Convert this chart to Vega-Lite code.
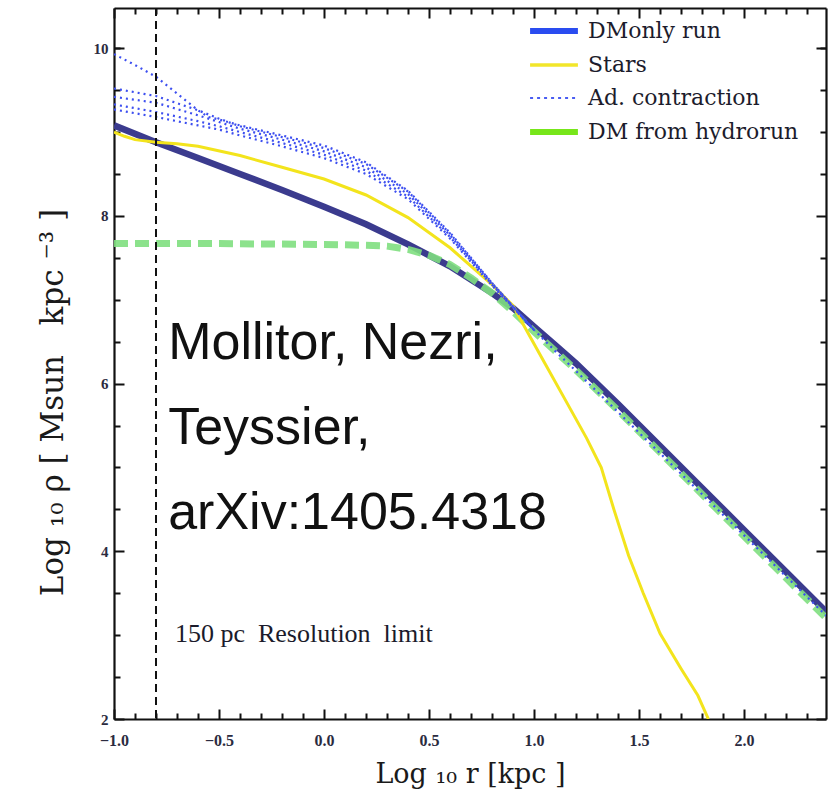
{
  "$schema": "https://vega.github.io/schema/vega-lite/v6.json",
  "autosize": "none",
  "width": 712,
  "height": 711,
  "padding": {"left": 114, "top": 8, "right": 8, "bottom": 79},
  "background": "white",
  "config": {
    "view": {"stroke": null},
    "axis": {
      "grid": false,
      "domainColor": "#111111",
      "domainWidth": 2.2,
      "gridColor": "#111111",
      "gridWidth": 2,
      "gridOpacity": 1,
      "labelFont": "Liberation Serif",
      "labelFontWeight": "bold",
      "labelColor": "#2b2b40",
      "titleFont": "DejaVu Serif",
      "titleFontWeight": "normal",
      "titleColor": "#1a1a1a"
    },
    "legend": {
      "labelFont": "DejaVu Serif",
      "labelFontSize": 22,
      "labelColor": "#1c1c2c",
      "labelLimit": 400
    }
  },
  "datasets": {
    "curves": [
      {"s": "DMonly run", "k": "M", "x": -1.0, "y": 9.08},
      {"s": "DMonly run", "k": "M", "x": -0.8, "y": 8.88},
      {"s": "DMonly run", "k": "M", "x": -0.6, "y": 8.69},
      {"s": "DMonly run", "k": "M", "x": -0.4, "y": 8.50},
      {"s": "DMonly run", "k": "M", "x": -0.2, "y": 8.31},
      {"s": "DMonly run", "k": "M", "x": 0.0, "y": 8.11},
      {"s": "DMonly run", "k": "M", "x": 0.2, "y": 7.90},
      {"s": "DMonly run", "k": "M", "x": 0.4, "y": 7.66},
      {"s": "DMonly run", "k": "M", "x": 0.6, "y": 7.40},
      {"s": "DMonly run", "k": "M", "x": 0.8, "y": 7.08},
      {"s": "DMonly run", "k": "M", "x": 0.9, "y": 6.90},
      {"s": "DMonly run", "k": "M", "x": 1.0, "y": 6.68},
      {"s": "DMonly run", "k": "M", "x": 1.1, "y": 6.46},
      {"s": "DMonly run", "k": "M", "x": 1.2, "y": 6.24},
      {"s": "DMonly run", "k": "M", "x": 1.4, "y": 5.755},
      {"s": "DMonly run", "k": "M", "x": 1.6, "y": 5.255},
      {"s": "DMonly run", "k": "M", "x": 1.8, "y": 4.755},
      {"s": "DMonly run", "k": "M", "x": 2.0, "y": 4.255},
      {"s": "DMonly run", "k": "M", "x": 2.2, "y": 3.755},
      {"s": "DMonly run", "k": "M", "x": 2.4, "y": 3.255},

      {"s": "Stars", "k": "S", "x": -1.0, "y": 9.00},
      {"s": "Stars", "k": "S", "x": -0.95, "y": 8.95},
      {"s": "Stars", "k": "S", "x": -0.9, "y": 8.91},
      {"s": "Stars", "k": "S", "x": -0.8, "y": 8.88},
      {"s": "Stars", "k": "S", "x": -0.7, "y": 8.86},
      {"s": "Stars", "k": "S", "x": -0.6, "y": 8.83},
      {"s": "Stars", "k": "S", "x": -0.4, "y": 8.72},
      {"s": "Stars", "k": "S", "x": -0.2, "y": 8.58},
      {"s": "Stars", "k": "S", "x": 0.0, "y": 8.44},
      {"s": "Stars", "k": "S", "x": 0.2, "y": 8.25},
      {"s": "Stars", "k": "S", "x": 0.4, "y": 7.98},
      {"s": "Stars", "k": "S", "x": 0.6, "y": 7.62},
      {"s": "Stars", "k": "S", "x": 0.8, "y": 7.18},
      {"s": "Stars", "k": "S", "x": 0.9, "y": 6.93},
      {"s": "Stars", "k": "S", "x": 0.95, "y": 6.70},
      {"s": "Stars", "k": "S", "x": 1.05, "y": 6.25},
      {"s": "Stars", "k": "S", "x": 1.15, "y": 5.80},
      {"s": "Stars", "k": "S", "x": 1.25, "y": 5.35},
      {"s": "Stars", "k": "S", "x": 1.32, "y": 5.00},
      {"s": "Stars", "k": "S", "x": 1.38, "y": 4.50},
      {"s": "Stars", "k": "S", "x": 1.45, "y": 3.95},
      {"s": "Stars", "k": "S", "x": 1.52, "y": 3.50},
      {"s": "Stars", "k": "S", "x": 1.60, "y": 3.02},
      {"s": "Stars", "k": "S", "x": 1.70, "y": 2.60},
      {"s": "Stars", "k": "S", "x": 1.78, "y": 2.28},
      {"s": "Stars", "k": "S", "x": 1.83, "y": 2.00},

      {"s": "Ad. contraction", "k": "A", "x": -1.0, "y": 9.93},
      {"s": "Ad. contraction", "k": "A", "x": -0.9, "y": 9.80},
      {"s": "Ad. contraction", "k": "A", "x": -0.8, "y": 9.66},
      {"s": "Ad. contraction", "k": "A", "x": -0.7, "y": 9.46},
      {"s": "Ad. contraction", "k": "A", "x": -0.6, "y": 9.26},
      {"s": "Ad. contraction", "k": "A", "x": -0.55, "y": 9.18},
      {"s": "Ad. contraction", "k": "A", "x": -0.5, "y": 9.15},
      {"s": "Ad. contraction", "k": "A", "x": -0.4, "y": 9.08},
      {"s": "Ad. contraction", "k": "A", "x": -0.2, "y": 8.96},
      {"s": "Ad. contraction", "k": "A", "x": 0.0, "y": 8.84},
      {"s": "Ad. contraction", "k": "A", "x": 0.2, "y": 8.64},
      {"s": "Ad. contraction", "k": "A", "x": 0.4, "y": 8.30},
      {"s": "Ad. contraction", "k": "A", "x": 0.6, "y": 7.80},
      {"s": "Ad. contraction", "k": "A", "x": 0.8, "y": 7.20},
      {"s": "Ad. contraction", "k": "A", "x": 0.9, "y": 6.92},
      {"s": "Ad. contraction", "k": "A", "x": 1.0, "y": 6.64},
      {"s": "Ad. contraction", "k": "A", "x": 1.1, "y": 6.39},
      {"s": "Ad. contraction", "k": "A", "x": 1.2, "y": 6.15},
      {"s": "Ad. contraction", "k": "A", "x": 1.4, "y": 5.66},
      {"s": "Ad. contraction", "k": "A", "x": 1.6, "y": 5.17},
      {"s": "Ad. contraction", "k": "A", "x": 1.8, "y": 4.68},
      {"s": "Ad. contraction", "k": "A", "x": 2.0, "y": 4.19},
      {"s": "Ad. contraction", "k": "A", "x": 2.2, "y": 3.70},
      {"s": "Ad. contraction", "k": "A", "x": 2.4, "y": 3.21},

      {"s": "Ad. contraction", "k": "B", "x": -1.0, "y": 9.52},
      {"s": "Ad. contraction", "k": "B", "x": -0.8, "y": 9.43},
      {"s": "Ad. contraction", "k": "B", "x": -0.6, "y": 9.26},
      {"s": "Ad. contraction", "k": "B", "x": -0.5, "y": 9.16},
      {"s": "Ad. contraction", "k": "B", "x": -0.4, "y": 9.07},
      {"s": "Ad. contraction", "k": "B", "x": -0.2, "y": 8.94},
      {"s": "Ad. contraction", "k": "B", "x": 0.0, "y": 8.81},
      {"s": "Ad. contraction", "k": "B", "x": 0.2, "y": 8.62},
      {"s": "Ad. contraction", "k": "B", "x": 0.4, "y": 8.29},
      {"s": "Ad. contraction", "k": "B", "x": 0.6, "y": 7.79},
      {"s": "Ad. contraction", "k": "B", "x": 0.8, "y": 7.20},
      {"s": "Ad. contraction", "k": "B", "x": 1.0, "y": 6.64},

      {"s": "Ad. contraction", "k": "C", "x": -1.0, "y": 9.42},
      {"s": "Ad. contraction", "k": "C", "x": -0.8, "y": 9.35},
      {"s": "Ad. contraction", "k": "C", "x": -0.6, "y": 9.20},
      {"s": "Ad. contraction", "k": "C", "x": -0.5, "y": 9.12},
      {"s": "Ad. contraction", "k": "C", "x": -0.4, "y": 9.04},
      {"s": "Ad. contraction", "k": "C", "x": -0.2, "y": 8.91},
      {"s": "Ad. contraction", "k": "C", "x": 0.0, "y": 8.77},
      {"s": "Ad. contraction", "k": "C", "x": 0.2, "y": 8.58},
      {"s": "Ad. contraction", "k": "C", "x": 0.4, "y": 8.26},
      {"s": "Ad. contraction", "k": "C", "x": 0.6, "y": 7.77},
      {"s": "Ad. contraction", "k": "C", "x": 0.8, "y": 7.19},
      {"s": "Ad. contraction", "k": "C", "x": 1.0, "y": 6.64},

      {"s": "Ad. contraction", "k": "D", "x": -1.0, "y": 9.33},
      {"s": "Ad. contraction", "k": "D", "x": -0.8, "y": 9.24},
      {"s": "Ad. contraction", "k": "D", "x": -0.6, "y": 9.13},
      {"s": "Ad. contraction", "k": "D", "x": -0.5, "y": 9.07},
      {"s": "Ad. contraction", "k": "D", "x": -0.4, "y": 9.00},
      {"s": "Ad. contraction", "k": "D", "x": -0.2, "y": 8.87},
      {"s": "Ad. contraction", "k": "D", "x": 0.0, "y": 8.73},
      {"s": "Ad. contraction", "k": "D", "x": 0.2, "y": 8.54},
      {"s": "Ad. contraction", "k": "D", "x": 0.4, "y": 8.23},
      {"s": "Ad. contraction", "k": "D", "x": 0.6, "y": 7.75},
      {"s": "Ad. contraction", "k": "D", "x": 0.8, "y": 7.18},
      {"s": "Ad. contraction", "k": "D", "x": 1.0, "y": 6.64},

      {"s": "Ad. contraction", "k": "E", "x": -1.0, "y": 9.27},
      {"s": "Ad. contraction", "k": "E", "x": -0.8, "y": 9.18},
      {"s": "Ad. contraction", "k": "E", "x": -0.6, "y": 9.08},
      {"s": "Ad. contraction", "k": "E", "x": -0.5, "y": 9.03},
      {"s": "Ad. contraction", "k": "E", "x": -0.4, "y": 8.96},
      {"s": "Ad. contraction", "k": "E", "x": -0.2, "y": 8.83},
      {"s": "Ad. contraction", "k": "E", "x": 0.0, "y": 8.69},
      {"s": "Ad. contraction", "k": "E", "x": 0.2, "y": 8.50},
      {"s": "Ad. contraction", "k": "E", "x": 0.4, "y": 8.20},
      {"s": "Ad. contraction", "k": "E", "x": 0.6, "y": 7.73},
      {"s": "Ad. contraction", "k": "E", "x": 0.8, "y": 7.17},
      {"s": "Ad. contraction", "k": "E", "x": 1.0, "y": 6.64},

      {"s": "DM from hydrorun", "k": "G", "x": -1.0, "y": 7.67},
      {"s": "DM from hydrorun", "k": "G", "x": -0.5, "y": 7.67},
      {"s": "DM from hydrorun", "k": "G", "x": 0.0, "y": 7.66},
      {"s": "DM from hydrorun", "k": "G", "x": 0.2, "y": 7.65},
      {"s": "DM from hydrorun", "k": "G", "x": 0.3, "y": 7.64},
      {"s": "DM from hydrorun", "k": "G", "x": 0.4, "y": 7.60},
      {"s": "DM from hydrorun", "k": "G", "x": 0.5, "y": 7.53},
      {"s": "DM from hydrorun", "k": "G", "x": 0.6, "y": 7.42},
      {"s": "DM from hydrorun", "k": "G", "x": 0.7, "y": 7.26},
      {"s": "DM from hydrorun", "k": "G", "x": 0.8, "y": 7.08},
      {"s": "DM from hydrorun", "k": "G", "x": 0.9, "y": 6.86},
      {"s": "DM from hydrorun", "k": "G", "x": 1.0, "y": 6.62},
      {"s": "DM from hydrorun", "k": "G", "x": 1.1, "y": 6.39},
      {"s": "DM from hydrorun", "k": "G", "x": 1.2, "y": 6.16},
      {"s": "DM from hydrorun", "k": "G", "x": 1.4, "y": 5.68},
      {"s": "DM from hydrorun", "k": "G", "x": 1.6, "y": 5.18},
      {"s": "DM from hydrorun", "k": "G", "x": 1.8, "y": 4.68},
      {"s": "DM from hydrorun", "k": "G", "x": 2.0, "y": 4.18},
      {"s": "DM from hydrorun", "k": "G", "x": 2.2, "y": 3.68},
      {"s": "DM from hydrorun", "k": "G", "x": 2.4, "y": 3.18}
    ]
  },
  "resolve": {"axis": {"x": "independent", "y": "independent"}},
  "layer": [
    {
      "data": {"name": "curves"},
      "transform": [{"filter": "datum.s === 'DMonly run'"}],
      "mark": {"type": "line", "color": "#3b3b8e", "strokeWidth": 6.5, "clip": true},
      "encoding": {
        "x": {
          "field": "x", "type": "quantitative",
          "scale": {"domain": [-1, 2.39], "nice": false, "zero": false},
          "axis": {
            "orient": "bottom",
            "values": [-1, -0.5, 0, 0.5, 1, 1.5, 2],
            "format": ".1f",
            "ticks": false,
            "grid": true,
            "gridDash": [10, 691],
            "labelPadding": 13,
            "labelFontSize": 16,
            "labelFlush": false,
            "title": "Log\u00a0₁₀\u00a0r\u00a0[kpc\u00a0]",
            "titleFontSize": 27,
            "titleX": 356,
            "titleY": 63,
            "titleBaseline": "alphabetic",
            "titleAlign": "center"
          }
        },
        "y": {
          "field": "y", "type": "quantitative",
          "scale": {"domain": [2, 10.48], "nice": false, "zero": false},
          "axis": {
            "orient": "left",
            "values": [2, 4, 6, 8, 10],
            "format": "d",
            "ticks": false,
            "grid": true,
            "gridDash": [10, 692],
            "labelPadding": 6,
            "labelFontSize": 15,
            "labelFlush": false,
            "title": "Log\u00a0₁₀\u00a0ρ\u00a0[\u00a0Msun\u00a0\u00a0\u00a0kpc\u00a0⁻³\u00a0]",
            "titleFontSize": 31,
            "titleAngle": -90,
            "titleX": -52,
            "titleY": 394,
            "titleBaseline": "alphabetic",
            "titleAlign": "center"
          }
        }
      }
    },
    {
      "data": {"name": "curves"},
      "transform": [{"filter": "datum.s === 'DM from hydrorun'"}],
      "mark": {"type": "line", "color": "#7fdf7f", "opacity": 0.9, "strokeWidth": 7, "strokeDash": [14, 7], "clip": true},
      "encoding": {
        "x": {"field": "x", "type": "quantitative", "axis": null},
        "y": {"field": "y", "type": "quantitative", "axis": null}
      }
    },
    {
      "data": {"name": "curves"},
      "transform": [{"filter": "datum.s === 'Stars'"}],
      "mark": {"type": "line", "color": "#f3e41c", "strokeWidth": 3, "clip": true},
      "encoding": {
        "x": {"field": "x", "type": "quantitative", "axis": null},
        "y": {"field": "y", "type": "quantitative", "axis": null}
      }
    },
    {
      "data": {"name": "curves"},
      "transform": [{"filter": "datum.s === 'Ad. contraction'"}],
      "mark": {"type": "line", "color": "#3d4ff0", "strokeWidth": 2.2, "strokeDash": [2, 4], "clip": true},
      "encoding": {
        "detail": {"field": "k"},
        "x": {
          "field": "x", "type": "quantitative",
          "axis": {
            "orient": "top",
            "values": [-0.9, -0.8, -0.7, -0.6, -0.4, -0.3, -0.2, -0.1, 0.1, 0.2, 0.3, 0.4, 0.6, 0.7, 0.8, 0.9, 1.1, 1.2, 1.3, 1.4, 1.6, 1.7, 1.8, 1.9, 2.1, 2.2, 2.3],
            "labels": false, "ticks": false, "title": null,
            "grid": true, "gridDash": [6, 699]
          }
        },
        "y": {
          "field": "y", "type": "quantitative",
          "axis": {
            "orient": "right",
            "values": [2.5, 3, 3.5, 4.5, 5, 5.5, 6.5, 7, 7.5, 8.5, 9, 9.5, 10],
            "labels": false, "ticks": false, "title": null,
            "grid": true, "gridDash": [6, 700]
          }
        }
      }
    },
    {
      "data": {"name": "curves"},
      "transform": [{"filter": "datum.k !== 'none'"}],
      "mark": {"type": "line", "opacity": 0, "clip": true},
      "encoding": {
        "detail": {"field": "k"},
        "x": {"field": "x", "type": "quantitative", "axis": null},
        "y": {"field": "y", "type": "quantitative", "axis": null},
        "color": {
          "field": "s", "type": "nominal",
          "scale": {"domain": ["DMonly run", "Stars", "Ad. contraction", "DM from hydrorun"], "range": ["#2a4cf0", "#f2e62a", "#4a5df2", "#77e61a"]},
          "legend": {
            "title": null,
            "orient": "none",
            "legendX": 429,
            "legendY": 12,
            "padding": 0,
            "symbolType": "M-1.45,0H1.45",
            "symbolSize": 1089,
            "symbolStrokeWidth": 5,
            "symbolOpacity": 1,
            "labelOffset": 23,
            "rowPadding": 11,
            "encode": {
              "symbols": {
                "update": {
                  "opacity": {"value": 1},
                  "strokeWidth": {"signal": "datum.value === 'Ad. contraction' ? 2 : datum.value === 'Stars' ? 3.5 : 6"}
                }
              }
            }
          }
        },
        "strokeDash": {
          "field": "s", "type": "nominal",
          "scale": {"domain": ["DMonly run", "Stars", "Ad. contraction", "DM from hydrorun"], "range": [[1, 0], [1, 0], [3, 4], [1, 0]]},
          "legend": {
            "title": null,
            "orient": "none",
            "legendX": 429,
            "legendY": 12,
            "padding": 0,
            "symbolType": "M-1.45,0H1.45",
            "symbolSize": 1089,
            "symbolStrokeWidth": 5,
            "symbolOpacity": 1,
            "labelOffset": 23,
            "rowPadding": 11
          }
        }
      }
    },
    {
      "data": {"values": [{"r": "resolution"}]},
      "mark": {"type": "rule", "color": "#111111", "strokeWidth": 2, "strokeDash": [8, 5]},
      "encoding": {"x": {"datum": -0.8, "type": "quantitative", "axis": null}}
    },
    {
      "data": {"values": [{"label": "Mollitor, Nezri,\nTeyssier,\narXiv:1405.4318", "x": -0.742, "y": 6.294}]},
      "mark": {"type": "text", "align": "left", "baseline": "alphabetic", "lineBreak": "\n", "lineHeight": 85, "font": "Liberation Sans", "fontSize": 52, "color": "#111111"},
      "encoding": {
        "x": {"field": "x", "type": "quantitative", "axis": null},
        "y": {"field": "y", "type": "quantitative", "axis": null},
        "text": {"field": "label"}
      }
    },
    {
      "data": {"values": [{"label": "150 pc\u00a0 Resolution\u00a0 limit", "x": -0.71, "y": 2.918}]},
      "mark": {"type": "text", "align": "left", "baseline": "alphabetic", "font": "Liberation Serif", "fontSize": 26, "color": "#1b1b2b"},
      "encoding": {
        "x": {"field": "x", "type": "quantitative", "axis": null},
        "y": {"field": "y", "type": "quantitative", "axis": null},
        "text": {"field": "label"}
      }
    }
  ]
}
